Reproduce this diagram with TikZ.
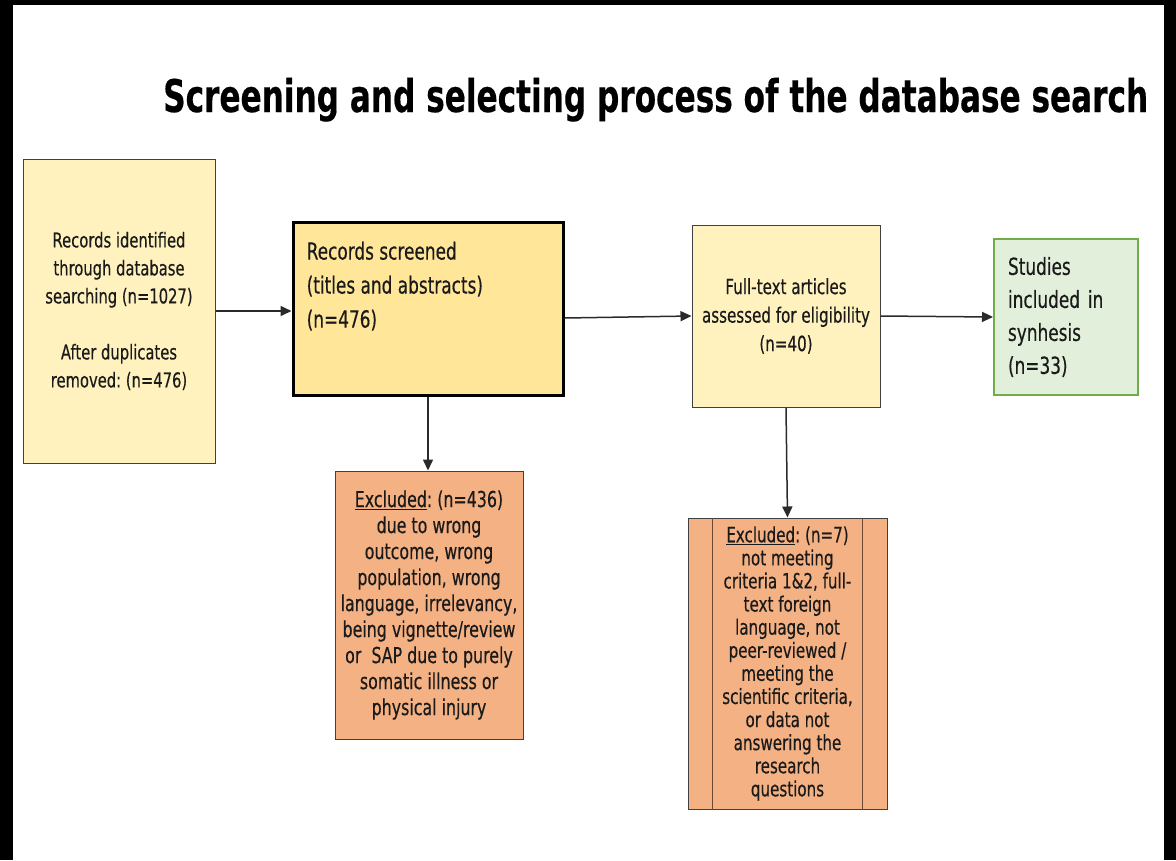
\documentclass[tikz,border=0pt]{standalone}
\usepackage{fontspec}
\setmainfont[FakeStretch=0.72,FakeBold=0.35]{DejaVu Sans}
\usepackage{graphicx}
\usetikzlibrary{arrows.meta,calc}
\definecolor{paleyellow}{HTML}{FFF2BE}
\definecolor{gold}{HTML}{FFE699}
\definecolor{salmon}{HTML}{F4B183}
\definecolor{palegreen}{HTML}{E2EFDA}
\definecolor{greenline}{HTML}{70AD47}
\definecolor{boxline}{HTML}{404040}
\definecolor{arrcol}{HTML}{2A2A2A}
\definecolor{textcol}{HTML}{1A1A1A}
\definecolor{procline}{HTML}{6A4A35}
\frenchspacing
\begin{document}
\begin{tikzpicture}[x=1pt,y=-1pt,
  box/.style={draw=boxline, line width=1pt, inner sep=0pt, align=center, text=textcol},
  txt/.style={inner sep=0pt, text=textcol},
  arr/.style={draw=arrcol, line width=1.5pt, -{Triangle[length=11pt,width=10pt]}}]
\useasboundingbox (0,0) rectangle (1176,860);
\fill[white] (0,0) rectangle (1176,860);
\fill[black] (0,0) rectangle (1176,5);
\fill[black] (0,0) rectangle (13,860);
\fill[black] (1164,0) rectangle (1176,860);

\node[txt, anchor=base west, text=black] (title) at (163,112)
  {\resizebox{985pt}{\height}{\fontsize{45}{50}\selectfont\bfseries Screening and selecting process of the database search}};

% Box A
\node[box, fill=paleyellow, minimum width=192pt, minimum height=304pt,
  font=\fontsize{20.5}{28}\selectfont] (A) at (119,311)
  {Records identified\\through database\\searching (n=1027)\\[28pt]After duplicates\\removed: (n=476)};

% Box B
\node[box, draw=black, line width=3pt, fill=gold, minimum width=270pt, minimum height=173pt] (B) at (428,308.5) {};
\node[txt, anchor=north west, align=left, font=\fontsize{23.5}{34}\selectfont] (Bt) at ($(B.north west)+(15,21)$)
  {Records screened\\(titles and abstracts)\\(n=476)};

% Box C
\node[box, fill=paleyellow, minimum width=188pt, minimum height=182pt,
  font=\fontsize{21}{28.5}\selectfont] (C) at (786,316)
  {Full-text articles\\assessed for eligibility\\(n=40)};

% Box D
\node[box, draw=greenline, line width=2pt, fill=palegreen, minimum height=156pt,
  text width=116pt, inner xsep=14pt, align=left,
  font=\fontsize{23.5}{33}\selectfont] (D) at (1066,317)
  {Studies\\included in\\synhesis\\(n=33)};

% Box E
\node[box, fill=salmon, minimum width=188pt, minimum height=268pt,
  font=\fontsize{22}{26}\selectfont] (E) at (429,605)
  {\underline{Excluded}: (n=436)\\due to wrong\\outcome, wrong\\population, wrong\\language, irrelevancy,\\being vignette/review\\or~ SAP due to purely\\somatic illness or\\physical injury};

% Box F (predefined process)
\node[box, fill=salmon, minimum width=199pt, minimum height=291pt,
  font=\fontsize{21}{23.1}\selectfont] (F) at (787.5,663.5)
  {\underline{Excluded}: (n=7)\\not meeting\\criteria 1\&2, full-\\text foreign\\language, not\\peer-reviewed /\\meeting the\\scientific criteria,\\or data not\\answering the\\research\\questions};
\draw[procline, line width=1pt] ($(F.north west)+(25,0)$) -- ($(F.south west)+(25,0)$);
\draw[procline, line width=1pt] ($(F.north east)+(-25,0)$) -- ($(F.south east)+(-25,0)$);

% Connectors
\draw[arr] (A.east) -- (A.east -| B.west);
\draw[arr] ($(B.east)+(0,9.5)$) -- (C.west);
\draw[arr] (C.east) -- (D.west);
\draw[arr] (B.south) -- (B.south |- E.north);
\draw[arr] (C.south) -- (F.north);
\end{tikzpicture}
\end{document}
